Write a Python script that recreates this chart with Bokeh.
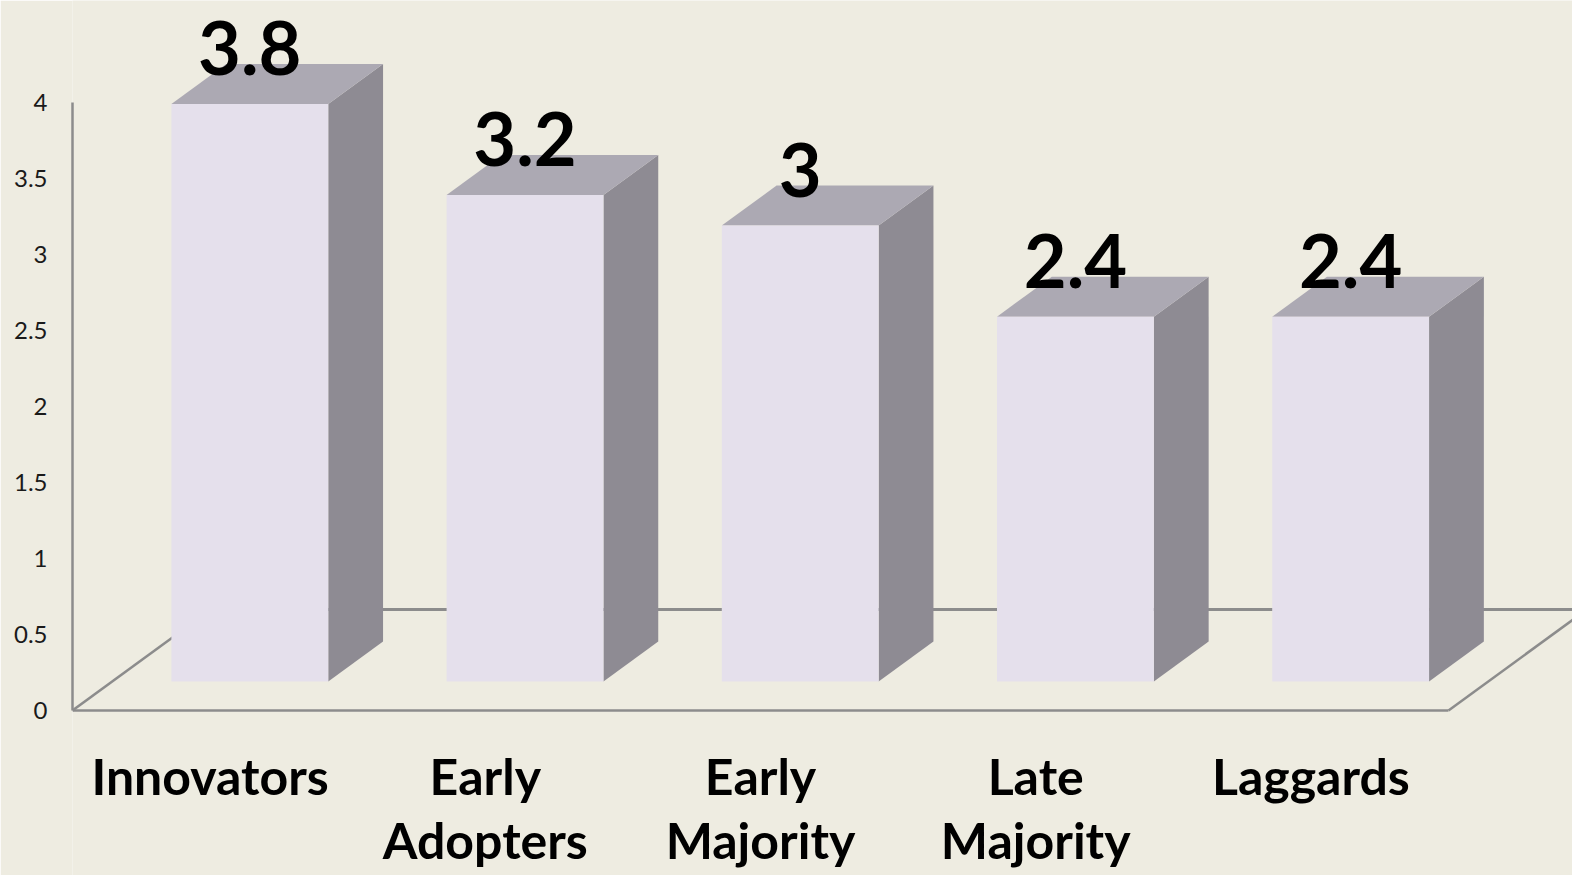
from bokeh.plotting import figure
from bokeh.models import Range1d, FixedTicker
from bokeh.core.properties import value
from bokeh.embed import file_html
from bokeh.resources import INLINE

# ---- data ----
categories = ["Innovators", "Early\nAdopters", "Early\nMajority", "Late\nMajority", "Laggards"]
values = [3.8, 3.2, 3.0, 2.4, 2.4]
value_labels = ["3.8", "3.2", "3", "2.4", "2.4"]
y_ticks = [0, 0.5, 1, 1.5, 2, 2.5, 3, 3.5, 4]
y_tick_labels = ["0", "0.5", "1", "1.5", "2", "2.5", "3", "3.5", "4"]

# ---- style ----
BG = "#EEECE1"
FRONT = "#E5E0EC"
TOP = "#ACA9B3"
SIDE = "#8E8B93"
LINE = "#8C8C8C"
FONT = "Lato"

W, H = 1572, 875
LEFT = 72            # frame left inside the figure (px)
PX_X = 275.2         # px per category
PX_Y = 152.0         # px per value unit
ZERO_Y = 710         # figure px row of value 0
SLOPE = 0.73         # depth direction dy/dx
FLOOR_D = 101        # floor depth (px, vertical)
BAR_D1, BAR_D2 = 29, 69
HALF_W = 0.285


def depth(d):
    return d / SLOPE / PX_X, d / PX_Y


p = figure(width=W, height=H, output_backend="svg", toolbar_location=None,
           x_range=Range1d(0, (W - LEFT) / PX_X),
           y_range=Range1d((ZERO_Y - H) / PX_Y, ZERO_Y / PX_Y),
           x_axis_location=None, min_border_left=LEFT, min_border_right=0,
           min_border_top=0, min_border_bottom=0)
p.background_fill_color = BG
p.border_fill_color = BG
p.outline_line_color = None
p.grid.visible = False

ax = p.yaxis[0]
ax.ticker = FixedTicker(ticks=y_ticks)
ax.bounds = (0, 4)
ax.axis_line_color = LINE
ax.axis_line_width = 2.5
ax.major_tick_line_color = None
ax.minor_tick_line_color = None
ax.major_label_standoff = 19
ax.major_label_text_font = FONT
ax.major_label_text_font_size = "24px"
ax.major_label_text_color = "#1a1a1a"
ax.major_label_overrides = {t: s for t, s in zip(y_ticks, y_tick_labels)}

n = len(values)
# floor
fdx, fdy = depth(FLOOR_D)
p.line([0, n], [0, 0], line_color=LINE, line_width=2.5)
p.line([0, fdx], [0, fdy], line_color=LINE, line_width=2.5)
p.line([n, n + fdx], [0, fdy], line_color=LINE, line_width=2.5)
p.line([fdx, n + fdx], [fdy, fdy], line_color=LINE, line_width=3)

fx, fy = depth(BAR_D1)
bx, by = depth(BAR_D2)
front_xs, front_ys, top_xs, top_ys, side_xs, side_ys = [], [], [], [], [], []
lab_x, lab_y = [], []
for i, v in enumerate(values):
    c = i + 0.5
    l, r = c - HALF_W, c + HALF_W
    front_xs.append([l + fx, r + fx, r + fx, l + fx])
    front_ys.append([fy, fy, v + fy, v + fy])
    top_xs.append([l + fx, r + fx, r + bx, l + bx])
    top_ys.append([v + fy, v + fy, v + by, v + by])
    side_xs.append([r + fx, r + bx, r + bx, r + fx])
    side_ys.append([fy, by, v + by, v + fy])
    lab_x.append(c + fx)
    lab_y.append(v + fy + 56 / PX_Y)

p.patches(side_xs, side_ys, fill_color=SIDE, line_color=None)
p.patches(top_xs, top_ys, fill_color=TOP, line_color=None)
p.patches(front_xs, front_ys, fill_color=FRONT, line_color=None)

p.text(x=lab_x, y=lab_y, text=value_labels, text_font=value(FONT),
       text_font_style="bold", text_font_size="74px", text_color="#000000",
       text_align="center", text_baseline="alphabetic")

# category labels
l1_x, l1_y, l1_t = [], [], []
base1 = (ZERO_Y - 775) / PX_Y
base2 = (ZERO_Y - 839) / PX_Y
for i, cat in enumerate(categories):
    parts = cat.split("\n")
    for j, part in enumerate(parts):
        l1_x.append(i + 0.5)
        l1_y.append(base1 if j == 0 else base2)
        l1_t.append(part)
p.text(x=l1_x, y=l1_y, text=l1_t, text_font=value(FONT), text_font_style="bold",
       text_font_size="50px", text_color="#000000", text_align="center",
       text_baseline="alphabetic")

open("out.html", "w").write(file_html(p, INLINE))
